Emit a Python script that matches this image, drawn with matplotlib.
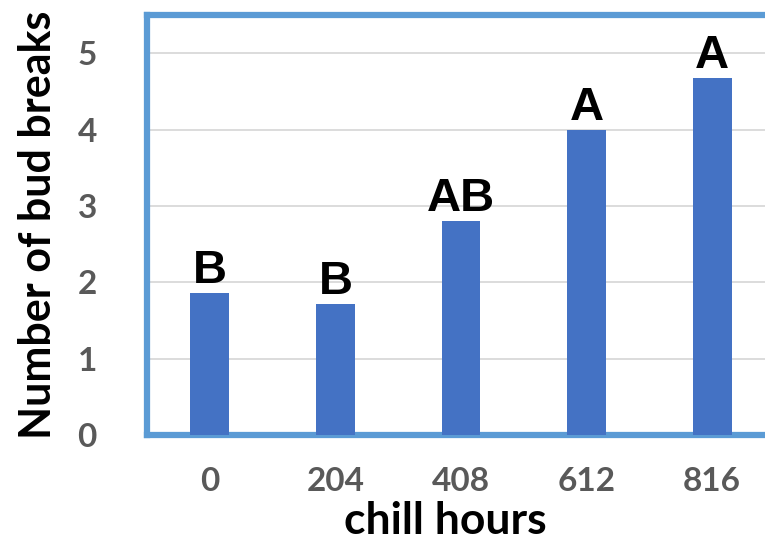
import matplotlib.pyplot as plt

chill_hours = ['0', '204', '408', '612', '816']
bud_breaks = [1.86, 1.71, 2.80, 3.99, 4.67]
groups = ['B', 'B', 'AB', 'A', 'A']

plt.rcParams['font.family'] = ['Lato', 'DejaVu Sans']

fig = plt.figure(figsize=(7.65, 5.42), dpi=100)
# axes run past the right edge, like the cropped original
ax = fig.add_axes([147 / 765, 107 / 542, 628 / 765, 420 / 542])

x = range(len(chill_hours))
bars = ax.bar(x, bud_breaks, width=0.31, color='#4472c4', zorder=3)

# significance letters above each bar
for b, g in zip(bars, groups):
    ax.annotate(g, (b.get_x() + b.get_width() / 2, b.get_height()),
                xytext=(0, 7.5), textcoords='offset points',
                ha='center', va='baseline', fontsize=34, fontweight='bold',
                color='black', family=['Liberation Sans', 'DejaVu Sans'])

ax.set_xlim(-0.5, 4.5)
ax.set_ylim(0, 5.5)
ax.set_yticks(range(6))
ax.set_xticks(list(x))
ax.set_xticklabels(chill_hours)
ax.yaxis.grid(True, color='#d9d9d9', linewidth=1.3, zorder=0)
ax.tick_params(length=0, labelsize=24, labelcolor='#595959')
ax.tick_params(axis='y', pad=36)
ax.tick_params(axis='x', pad=23)
for lbl in ax.get_xticklabels() + ax.get_yticklabels():
    lbl.set_fontweight('bold')

for s in ax.spines.values():
    s.set_color('#5b9bd5')
    s.set_linewidth(4.5)

ax.set_xlabel('chill hours', fontsize=32, fontweight='bold', labelpad=4)
ax.xaxis.label.set_x(0.475)
ax.set_ylabel('Number of bud breaks', fontsize=31, fontweight='bold', labelpad=14)

fig.savefig('out.png', dpi=100)
